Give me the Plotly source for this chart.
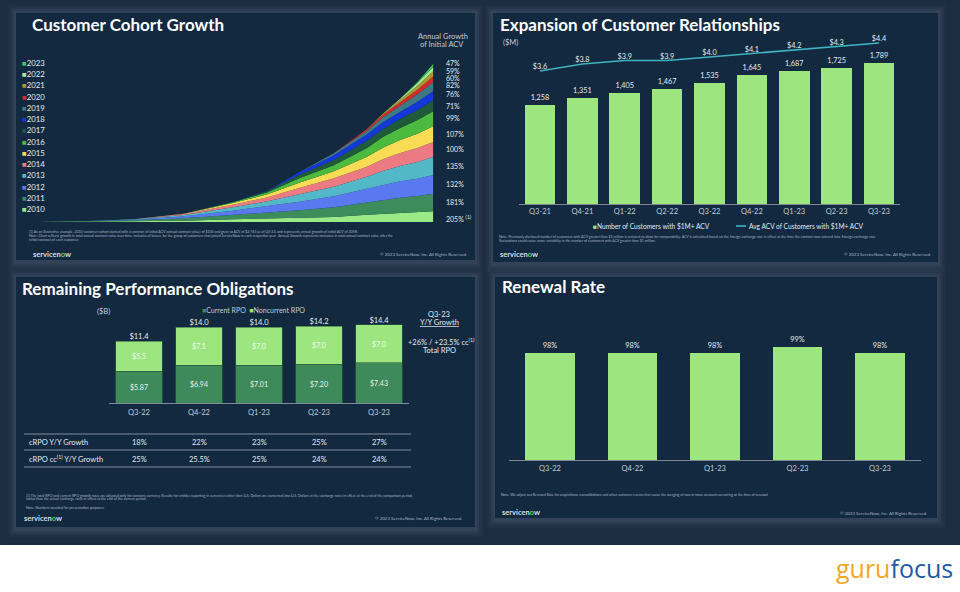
import plotly.graph_objects as go

W, H = 960, 592
def px(x): return x / W
def py(y): return 1 - y / H

FONT = "Lato"
# ---------------- Panel 1 data: Customer Cohort Growth ----------------
periods = [2010.0, 2011.6, 2013.35, 2015.1, 2016.8, 2018.0, 2019.1, 2020.3, 2021.45, 2022.0, 2022.6, 2023.2, 2023.75]
cohort_years = ["2010", "2011", "2012", "2013", "2014", "2015", "2016", "2017", "2018", "2019", "2020", "2021", "2022", "2023"]
c2010 = [0, 1, 2, 4, 8, 10, 12, 15, 22, 24, 27, 29, 32]
c2011 = [0, 1, 3, 7, 13, 18, 23, 29, 37, 42, 46, 49, 53]
c2012 = [0, 0, 2, 6, 13, 19, 26, 33, 40, 45, 49, 52, 56]
c2013 = [0, 0, 1, 4, 10, 15, 22, 29, 37, 42, 46, 50, 54]
c2014 = [0, 0, 0, 3, 8, 12, 19, 25, 30, 35, 39, 42, 45]
c2015 = [0, 0, 0, 1, 5, 9, 16, 21, 30, 35, 39, 43, 47]
c2016 = [0, 0, 0, 0, 2.5, 6, 13, 18, 26, 32, 36, 41, 45]
c2017 = [0, 0, 0, 0, 0.5, 4, 11, 16, 22, 24, 27, 30, 33]
c2018 = [0, 0, 0, 0, 0, 1, 7, 14, 19, 20, 22, 25, 28]
c2019 = [0, 0, 0, 0, 0, 0, 0.5, 6, 11, 15, 18, 22, 27]
c2020 = [0, 0, 0, 0, 0, 0, 0, 0.5, 5, 8, 10, 14, 17]
c2021 = [0, 0, 0, 0, 0, 0, 0, 0, 0, 3, 8, 12, 16]
c2022 = [0, 0, 0, 0, 0, 0, 0, 0, 0, 0, 3, 8, 12]
c2023 = [0, 0, 0, 0, 0, 0, 0, 0, 0, 0, 0, 3, 10]
growth_labels = ["205% <sup>(1)</sup>", "181%", "132%", "135%", "100%", "107%", "99%", "71%", "76%", "82%", "60%", "59%", "47%"]

# ---------------- Panel 2 data ----------------
quarters_2 = ["Q3-21", "Q4-21", "Q1-22", "Q2-22", "Q3-22", "Q4-22", "Q1-23", "Q2-23", "Q3-23"]
customers_1m = [1258, 1351, 1405, 1467, 1535, 1645, 1687, 1725, 1789]
avg_acv = [3.6, 3.8, 3.9, 3.9, 4.0, 4.1, 4.2, 4.3, 4.4]

# ---------------- Panel 3 data ----------------
quarters_3 = ["Q3-22", "Q4-22", "Q1-23", "Q2-23", "Q3-23"]
current_rpo = [5.87, 6.94, 7.01, 7.20, 7.43]
noncurrent_rpo = [5.5, 7.1, 7.0, 7.0, 7.0]
total_rpo = [11.4, 14.0, 14.0, 14.2, 14.4]
crpo_growth = ["18%", "22%", "23%", "25%", "27%"]
crpo_cc_growth = ["25%", "25.5%", "25%", "24%", "24%"]

# ---------------- Panel 4 data ----------------
renewal_rate = [98, 98, 98, 99, 98]

# ---------------- styles ----------------
OUTER = "#1d2c41"
PANEL = "#12293f"
LG = "#9de67f"
DG = "#3f8a5b"
TEAL = "#3fb3c3"
TXT = "#e4e9ee"
SUB = "#c3ccd6"
NOTE = "#a9b5c2"
cohort_colors = ["#9aea86", "#3c8c5c", "#5a78f0", "#52b8c8", "#ec7a82", "#f8dc54", "#4cba3e",
                 "#1f5a3a", "#1438d8", "#3e7a86", "#d42a2a", "#a89830", "#a8ec90", "#3cc060"]
cohorts = [c2010, c2011, c2012, c2013, c2014, c2015, c2016, c2017, c2018, c2019, c2020, c2021, c2022, c2023]

fig = go.Figure()

# Panel 1 stacked areas
for yr, vals, col in zip(cohort_years, cohorts, cohort_colors):
    fig.add_trace(go.Scatter(x=periods, y=vals, stackgroup="coh", mode="lines",
                             line=dict(width=0, color=col), fillcolor=col, name=yr,
                             xaxis="x", yaxis="y", hoverinfo="skip"))

# Panel 2
fig.add_trace(go.Bar(x=quarters_2, y=customers_1m, xaxis="x2", yaxis="y2", width=0.72,
                     marker=dict(color=LG, line=dict(width=0)),
                     texttemplate="%{y:,}", textposition="outside",
                     textfont=dict(size=7.3, color=TXT, family=FONT), cliponaxis=False))
fig.add_trace(go.Scatter(x=quarters_2, y=avg_acv, xaxis="x2", yaxis="y3", mode="lines+text",
                         line=dict(color=TEAL, width=1.6), texttemplate="$%{y:.1f}",
                         textposition="top center", textfont=dict(size=7.3, color=TXT, family=FONT),
                         cliponaxis=False))

# Panel 3
fig.add_trace(go.Bar(x=quarters_3, y=current_rpo, xaxis="x4", yaxis="y4", width=0.77,
                     marker=dict(color=DG, line=dict(width=0.6, color="#2d5f42")),
                     texttemplate="$%{y:.2f}", textposition="inside", insidetextanchor="middle",
                     textfont=dict(size=7, color="#e8f2ea", family=FONT)))
fig.add_trace(go.Bar(x=quarters_3, y=noncurrent_rpo, xaxis="x4", yaxis="y4", width=0.77,
                     marker=dict(color=LG, line=dict(width=0.6, color="#2d5f42")),
                     texttemplate="$%{y:.1f}", textposition="inside", insidetextanchor="middle",
                     textfont=dict(size=7, color="#f4fbf2", family=FONT)))
fig.add_trace(go.Scatter(x=quarters_3, y=total_rpo, xaxis="x4", yaxis="y4", mode="text",
                         texttemplate="$%{y:.1f}", textposition="top center",
                         textfont=dict(size=7.5, color=TXT, family=FONT), cliponaxis=False))

# Panel 4
fig.add_trace(go.Bar(x=quarters_3, y=renewal_rate, xaxis="x5", yaxis="y5", width=0.6,
                     marker=dict(color=LG, line=dict(width=0)),
                     texttemplate="%{y}%", textposition="outside",
                     textfont=dict(size=7.3, color=TXT, family=FONT), cliponaxis=False))

# ---------------- shapes ----------------
shapes = [dict(type="rect", xref="paper", yref="paper", x0=0, x1=1, y0=py(545), y1=1,
               fillcolor=OUTER, line=dict(width=0), layer="below")]
panels = [(16, 13, 475, 260), (493, 13, 938, 262), (16, 277, 475, 527), (495, 277, 937, 518)]
for (l, t, r, b) in panels:
    for d, op in [(8, 0.04), (6, 0.05), (4, 0.06), (2, 0.07)]:
        shapes.append(dict(type="rect", xref="paper", yref="paper", x0=px(l - d), x1=px(r + d),
                           y0=py(b + d + 2), y1=py(t - d), fillcolor=f"rgba(150,165,180,{op})",
                           line=dict(width=0), layer="below"))
    shapes.append(dict(type="rect", xref="paper", yref="paper", x0=px(l), x1=px(r), y0=py(b), y1=py(t),
                       fillcolor=PANEL, line=dict(width=0), layer="below"))
# table lines panel 3
for yy in [434, 450, 467]:
    shapes.append(dict(type="line", xref="paper", yref="paper", x0=px(24), x1=px(411), y0=py(yy), y1=py(yy),
                       line=dict(color="#7f8c99", width=1)))
# legend line panel 2
shapes.append(dict(type="line", xref="paper", yref="paper", x0=px(736), x1=px(746), y0=py(226), y1=py(226),
                   line=dict(color=TEAL, width=1.6)))

# ---------------- annotations ----------------
ann = []
def text(x, y, s, size=7, color=TXT, anchor="left", bold=False, family=FONT):
    ann.append(dict(xref="paper", yref="paper", x=px(x), y=py(y), text=(f"<b>{s}</b>" if bold else s),
                    showarrow=False, xanchor=anchor, yanchor="middle",
                    font=dict(size=size, color=color, family=family)))

# titles
text(30, 24, "Customer Cohort Growth", 17, "#ffffff", bold=True)
text(498, 24, "Expansion of Customer Relationships", 17, "#ffffff", bold=True)
text(20, 288, "Remaining Performance Obligations", 17, "#ffffff", bold=True)
text(500, 286, "Renewal Rate", 17, "#ffffff", bold=True)

# panel 1 legend
for i, (yr, col) in enumerate(zip(cohort_years[::-1], cohort_colors[::-1])):
    text(20, 62.7 + 11.28 * i, f"<span style='color:{col}'>■</span>{yr}", 7.8, TXT)
# panel 1 right labels
growth_y = [218.3, 201.7, 184.3, 165.7, 149.3, 134, 118.3, 105.7, 94.3, 85.3, 78, 70.7, 62.7]
for lab, yy in zip(growth_labels, growth_y):
    text(444, yy, lab, 7, TXT)
text(470, 36, "Annual Growth", 7.5, SUB, anchor="right")
text(466, 44.3, "of Initial ACV", 7.5, SUB, anchor="right")
text(27, 231.5, "(1) As an illustrative example, 2010 customer cohort started with a contract of initial ACV (annual contract value) of $100 and grew to ACV of $2,763 as of Q3-23, and represents annual growth of initial ACV of 205%.", 3.5, NOTE)
text(27, 235.7, "Note: Chart reflects growth in total annual contract value over time, inclusive of losses, for the group of customers that joined ServiceNow in each respective year.  Annual Growth represents increases in total annual contract value after the", 3.5, NOTE)
text(27, 239.9, "initial contract of each customer.", 3.5, NOTE)

# panel 2 extras
text(501, 42, "($M)", 7.5, SUB)
text(591, 226, f"<span style='color:{LG}'>■</span>Number of Customers with $1M+ ACV", 6.6, TXT)
text(747, 226, "Avg ACV of Customers with $1M+ ACV", 6.6, TXT)
text(497, 236.7, "Note: Previously disclosed number of customers with ACV greater than $1 million is restated to allow for comparability. ACV is calculated based on the foreign exchange rate in effect at the time the contract was entered into. Foreign exchange rate", 3.5, NOTE)
text(497, 240.9, "fluctuations could cause some variability in the number of customers with ACV greater than $1 million.", 3.5, NOTE)

# panel 3 extras
text(95, 312, "($B)", 7.5, SUB)
text(253, 310, f"<span style='color:{DG}'>■</span>Current RPO  <span style='color:{LG}'>■</span>Noncurrent RPO", 7, SUB, anchor="center")
text(439, 314, "Q3-23", 7.5, TXT, anchor="center")
text(439, 322.7, "<u>Y/Y Growth</u>", 7.5, TXT, anchor="center")
text(441, 342, "+26% / +23.5% cc<sup>(1)</sup>", 7.5, TXT, anchor="center")
text(439, 350.7, "Total RPO", 7.5, TXT, anchor="center")
text(27, 442.7, "cRPO Y/Y Growth", 7.5, TXT)
text(27, 459, "cRPO cc<sup>(1)</sup> Y/Y Growth", 7.5, TXT)
for q, a, b in zip(quarters_3, crpo_growth, crpo_cc_growth):
    ann.append(dict(xref="x4", yref="paper", x=q, y=py(442.7), text=a, showarrow=False, yanchor="middle",
                    font=dict(size=7.5, color=TXT, family=FONT)))
    ann.append(dict(xref="x4", yref="paper", x=q, y=py(459), text=b, showarrow=False, yanchor="middle",
                    font=dict(size=7.5, color=TXT, family=FONT)))
text(24, 495, "(1) The total RPO and current RPO growth rates are adjusted only for constant currency. Results for entities reporting in currencies other than U.S. Dollars are converted into U.S. Dollars at the exchange rates in effect at the end of the comparison period,", 3.5, NOTE)
text(24, 499.2, "rather than the actual exchange rates in effect at the end of the current period.", 3.5, NOTE)
text(24, 508, "Note: Numbers rounded for presentation purposes.", 3.5, NOTE)

# panel 4 extras
text(499, 495, "Note: We adjust our Renewal Rate for acquisitions, consolidations and other customer events that cause the merging of two or more accounts occurring at the time of renewal.", 3.5, NOTE)

# servicenow logos & copyright
logo = "servicen<span style='color:#62d84e'>o</span>w"
for (x, y) in [(31, 254.5), (498, 254.7), (22, 518), (500, 512)]:
    text(x, y, logo, 7.5, "#d7dee6", bold=True)
for (x, y) in [(469, 255), (933, 255), (464, 518.5), (929, 513)]:
    text(x, y, "© 2023 ServiceNow, Inc. All Rights Reserved.", 4.4, NOTE, anchor="right")

# gurufocus
text(955, 568, "<span style='color:#f5a623'>guru</span><span style='color:#1f5ba6'>focus</span>", 25, "#1f5ba6",
     anchor="right", family="Open Sans")

ax_common = dict(showgrid=False, zeroline=False, ticks="", type="category",
                 tickfont=dict(size=7.5, color=SUB, family=FONT),
                 showline=True, linecolor="#7d8a98", linewidth=1, fixedrange=True)

fig.update_layout(
    width=W, height=H, margin=dict(l=0, r=0, t=0, b=0),
    paper_bgcolor="#ffffff", plot_bgcolor="rgba(0,0,0,0)",
    showlegend=False, barmode="stack",
    font=dict(family=FONT, color=TXT),
    xaxis=dict(domain=[px(36.7), px(433.3)], range=[2010, 2023.75], visible=False, anchor="y"),
    yaxis=dict(domain=[py(222), py(63.7)], range=[0, 475], visible=False, anchor="x"),
    xaxis2=dict(domain=[px(518.8), px(900.2)], anchor="y2", **ax_common),
    yaxis2=dict(domain=[py(204), py(40)], range=[0, 2084], visible=False, anchor="x2"),
    yaxis3=dict(overlaying="y2", range=[-0.2, 4.486], visible=False, anchor="x2"),
    xaxis4=dict(domain=[px(109), px(409)], anchor="y4", ticklabelstandoff=2, **ax_common),
    yaxis4=dict(domain=[py(403), py(318)], range=[0, 15.71], visible=False, anchor="x4"),
    xaxis5=dict(domain=[px(508.75), px(921.25)], anchor="y5", ticklabelstandoff=1, **ax_common),
    yaxis5=dict(domain=[py(460), py(330)], range=[80.12, 101.79], visible=False, anchor="x5"),
    shapes=shapes, annotations=ann,
)

fig.write_html("out.html", config={"displayModeBar": False},
               post_script="document.body.style.margin='0px';document.body.style.overflow='hidden';")
